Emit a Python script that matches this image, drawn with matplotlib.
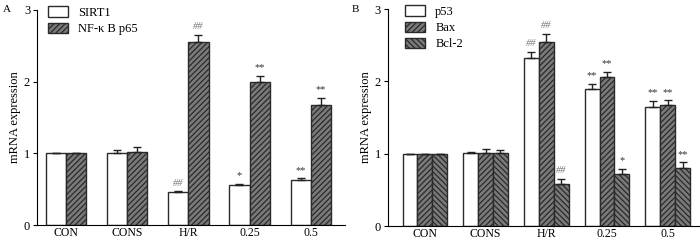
import numpy as np
from matplotlib import pyplot as plt

plt.rcParams['font.family'] = ['Liberation Serif', 'DejaVu Serif']
plt.rcParams['hatch.linewidth'] = 0.9

groups = ['CON', 'CONS', 'H/R', '0.25', '0.5']

# panel A
sirt1 = [1.0, 1.01, 0.455, 0.56, 0.63]
sirt1_err = [0.0, 0.04, 0.015, 0.01, 0.02]
nfkb = [1.0, 1.02, 2.55, 2.0, 1.68]
nfkb_err = [0.0, 0.07, 0.1, 0.08, 0.09]
sirt1_sig = ['', '', '##', '*', '**']
nfkb_sig = ['', '', '##', '**', '**']

# panel B
p53 = [1.0, 1.01, 2.32, 1.9, 1.64]
p53_err = [0.0, 0.01, 0.09, 0.07, 0.09]
bax = [1.0, 1.01, 2.55, 2.06, 1.67]
bax_err = [0.0, 0.05, 0.11, 0.07, 0.07]
bcl2 = [1.0, 1.01, 0.58, 0.72, 0.8]
bcl2_err = [0.0, 0.04, 0.07, 0.07, 0.08]
p53_sig = ['', '', '##', '**', '**']
bax_sig = ['', '', '##', '**', '**']
bcl2_sig = ['', '', '##', '*', '**']

fig = plt.figure(figsize=(7, 2.4), dpi=100)
axA = fig.add_axes([0.053, 0.0625, 0.44, 0.896])
axB = fig.add_axes([0.554, 0.058, 0.444, 0.904])

x = np.arange(len(groups))


def barras(ax, pos, vals, errs, sig, hatch, w, label):
    fc = 'white' if hatch == '' else '#7a7a7a'
    ax.bar(pos, vals, w, color=fc, edgecolor='#2a2a2a', linewidth=1,
           hatch=hatch, label=label, zorder=2)
    ax.errorbar(pos, vals, yerr=[np.zeros(len(vals)), errs], fmt='none',
                ecolor='#222222', elinewidth=1, capsize=3, capthick=1, zorder=3)
    for xi, v, e, s in zip(pos, vals, errs, sig):
        if s == '':
            continue
        col = '#777777' if s.startswith('#') else '#333333'
        st = 'italic' if s.startswith('#') else 'normal'
        ax.text(xi, v + e + 0.05, s, ha='center', va='bottom', fontsize=7.5,
                color=col, style=st)


def estilo(ax, xlim):
    ax.set_ylim(0, 3)
    ax.set_xlim(*xlim)
    ax.set_yticks([0, 1, 2, 3])
    ax.set_xticks(x)
    ax.set_xticklabels(groups)
    ax.spines['top'].set_visible(False)
    ax.spines['right'].set_visible(False)
    ax.tick_params(axis='x', length=0, labelsize=8.5, pad=1.5)
    ax.tick_params(axis='y', direction='out', length=3, labelsize=9, pad=2)
    ax.set_ylabel('mRNA expression', fontsize=9, labelpad=2)


w = 0.33
barras(axA, x - w / 2, sirt1, sirt1_err, sirt1_sig, '', w, 'SIRT1')
barras(axA, x + w / 2, nfkb, nfkb_err, nfkb_sig, '//////', w, 'NF-κ B p65')
estilo(axA, (-0.47, 4.56))
axA.legend(loc='upper left', bbox_to_anchor=(0.02, 1.04), frameon=False,
           fontsize=9, handlelength=1.6, handleheight=0.9, labelspacing=0.3,
           borderaxespad=0)

w = 0.245
barras(axB, x - w, p53, p53_err, p53_sig, '', w, 'p53')
barras(axB, x, bax, bax_err, bax_sig, '//////', w, 'Bax')
barras(axB, x + w, bcl2, bcl2_err, bcl2_sig, '\\\\\\\\\\\\', w, 'Bcl-2')
estilo(axB, (-0.61, 4.51))
axB.legend(loc='upper left', bbox_to_anchor=(0.04, 1.04), frameon=False,
           fontsize=9, handlelength=1.6, handleheight=0.9, labelspacing=0.3,
           borderaxespad=0)

fig.text(3 / 700, 1 - 12 / 240, 'A', fontsize=8)
fig.text(352 / 700, 1 - 12 / 240, 'B', fontsize=8)

plt.savefig('out.png', dpi=100)
